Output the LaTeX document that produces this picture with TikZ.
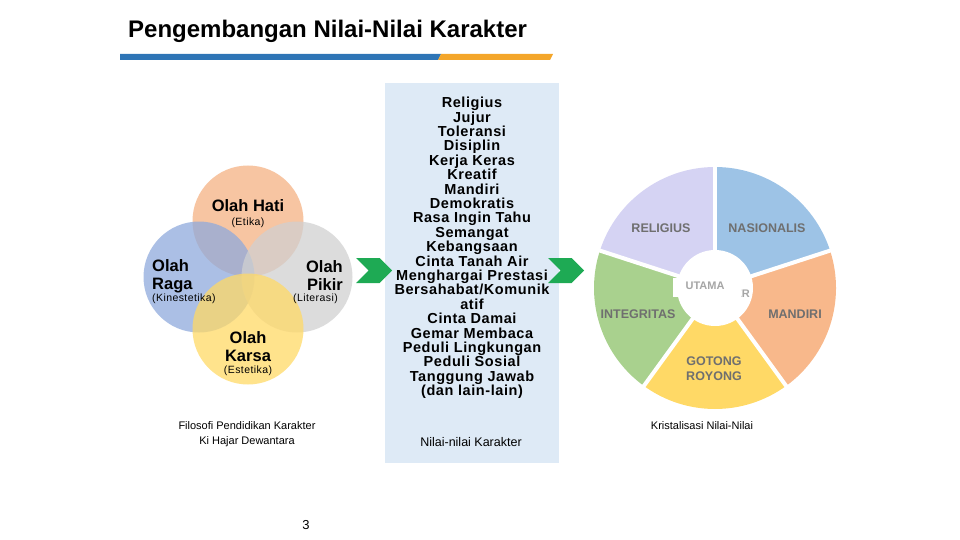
\documentclass[tikz,border=0pt]{standalone}
\usepackage{fontspec}
\setmainfont{Liberation Sans}
\newfontfamily\spaced[LetterSpace=4]{Liberation Sans}
\usetikzlibrary{positioning,shapes.symbols}

\definecolor{barblue}{HTML}{2E75B6}
\definecolor{barorange}{HTML}{F4A62A}
\definecolor{hati}{HTML}{F4B183}
\definecolor{raga}{HTML}{8FAADC}
\definecolor{pikir}{HTML}{D0D0D0}
\definecolor{karsa}{HTML}{FFD966}
\definecolor{listbg}{HTML}{DEEAF6}
\definecolor{arrowgreen}{HTML}{1EAA54}
\definecolor{religius}{HTML}{D5D3F3}
\definecolor{nasionalis}{HTML}{9DC3E6}
\definecolor{mandiri}{HTML}{F8B88B}
\definecolor{gotong}{HTML}{FFD966}
\definecolor{integritas}{HTML}{A9D18E}
\definecolor{pietext}{HTML}{6F6F6F}
\definecolor{utamatext}{HTML}{A6A6A6}

\tikzstyle{venn}=[
	circle,
	minimum size=111pt,
	inner sep=0pt,
	fill opacity=0.75
]
\tikzstyle{olah}=[font=\bfseries\fontsize{16.5}{18}\selectfont, inner sep=0pt]
\tikzstyle{aspek}=[font=\spaced\fontsize{10.5}{12}\selectfont, inner sep=0pt]
\tikzstyle{caption}=[font=\fontsize{11}{14.5}\selectfont, inner sep=0pt, align=center]
\tikzstyle{chevron}=[
	signal,
	signal from=west,
	signal to=east,
	fill=arrowgreen,
	minimum width=36pt,
	minimum height=25pt,
	inner sep=0pt
]
\tikzstyle{pielabel}=[font=\bfseries\fontsize{12.5}{15}\selectfont, text=pietext, align=center, inner sep=0pt]
\tikzstyle{gap}=[white, line width=4pt]

\begin{document}
\begin{tikzpicture}[x=1pt, y=-1pt]
\useasboundingbox (0,0) rectangle (960,540);

% title and bar
\node [anchor=base west, inner sep=0pt, font=\bfseries\fontsize{24}{28}\selectfont] (title) at (128,38) {Pengembangan Nilai-Nilai Karakter};
\fill [barblue] (120,54) -- (441,54) -- (438,60) -- (120,60) -- cycle;
\fill [barorange] (441,54) -- (553,54) -- (550,60) -- (438,60) -- cycle;

% olah hati, raga, pikir, karsa
\node [venn, fill=hati] (hati) at (248,221) {};
\node [venn, fill=raga] (raga) at (199,277) {};
\node [venn, fill=pikir] (pikir) at (297,277) {};
\node [venn, fill=karsa] (karsa) at (248,329) {};

\node [olah] (hatiL) at (248,206) {Olah Hati};
\node [aspek, below=5pt of hatiL] (hatiS) {(Etika)};
\node [olah, align=left, anchor=west] (ragaL) at (152,276) {Olah\\Raga};
\node [aspek, anchor=west] (ragaS) at (152,299) {(Kinestetika)};
\node [olah, align=right, anchor=east] (pikirL) at (343,276) {Olah\\Pikir};
\node [aspek, anchor=east] (pikirS) at (338,299) {(Literasi)};
\node [olah, align=center] (karsaL) at (248,347) {Olah\\Karsa};
\node [aspek] (karsaS) at (248,371) {(Estetika)};

\node [caption] (filosofi) at (247,434) {Filosofi Pendidikan Karakter\\Ki Hajar Dewantara};

% nilai-nilai
\node [fill=listbg, minimum width=174pt, minimum height=380pt, inner sep=0pt] (box) at (472,273) {};
\node [align=center, inner sep=0pt, font=\spaced\bfseries\fontsize{14.5}{14.4}\selectfont] (nilai) at (472,248) {Religius\\Jujur\\Toleransi\\Disiplin\\Kerja Keras\\Kreatif\\Mandiri\\Demokratis\\Rasa Ingin Tahu\\Semangat\\Kebangsaan\\Cinta Tanah Air\\Menghargai Prestasi\\Bersahabat/Komunik\\atif\\Cinta Damai\\Gemar Membaca\\Peduli Lingkungan\\Peduli Sosial\\Tanggung Jawab\\(dan lain-lain)};
\node [caption, font=\fontsize{12.5}{14}\selectfont] (nilaiC) at (471,442) {Nilai-nilai Karakter};

\node [chevron] (arrowA) at (374,270.5) {};
\node [chevron] (arrowB) at (566,270.5) {};

% kristalisasi
\coordinate (pie) at (715,288);
\foreach \a/\c in {-18/nasionalis,-90/religius,-162/integritas,-234/gotong,-306/mandiri}
	\fill [\c] (pie) -- ++(\a:121) arc [start angle=\a, end angle=\a-72, radius=121] -- cycle;
\foreach \a in {-18,-90,-162,-234,-306}
	\draw [gap] (pie) -- ++(\a:124);
\fill [white] (pie) circle [radius=38];

\node [pielabel] (religiusL) at (661,228) {RELIGIUS};
\node [pielabel] (nasionalisL) at (767,228) {NASIONALIS};
\node [pielabel] (mandiriL) at (795,314) {MANDIRI};
\node [pielabel] (gotongL) at (714,369) {GOTONG\\ROYONG};
\node [pielabel] (integritasL) at (638,314) {INTEGRITAS};

\node [inner sep=0pt, font=\bfseries\fontsize{11}{12}\selectfont, text=utamatext] (karakterL) at (719,294) {KARAKTER};
\fill [white] (673,278) rectangle (741,296.5);
\node [inner sep=0pt, font=\bfseries\fontsize{11}{12}\selectfont, text=utamatext] (utamaL) at (705,286) {UTAMA};

\node [caption] (kristal) at (702,426) {Kristalisasi Nilai-Nilai};

\node [inner sep=0pt, font=\fontsize{13}{14}\selectfont] (page) at (306,525) {3};
\end{tikzpicture}
\end{document}
